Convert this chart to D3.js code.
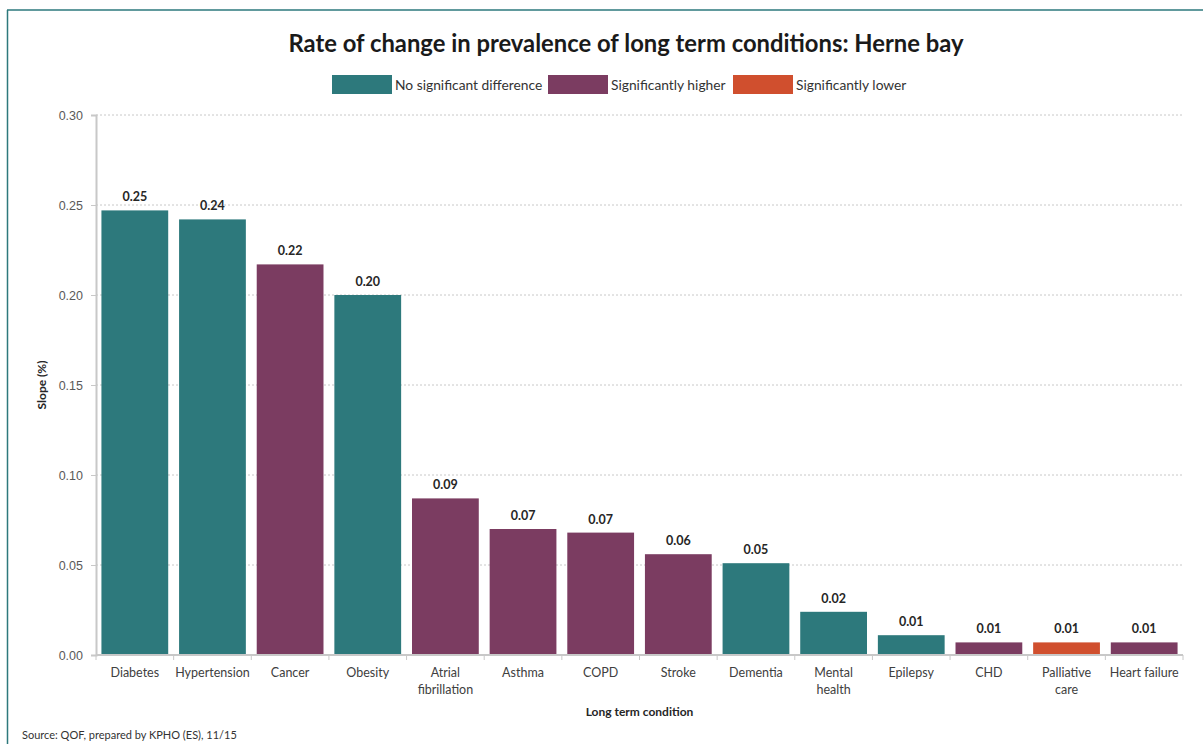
<!DOCTYPE html>
<html>
<head>
<meta charset="utf-8">
<script src="https://cdn.jsdelivr.net/npm/d3@7"></script>
<style>
  body { margin: 0; background: #fff; }
  svg { display: block; font-family: Lato, "Open Sans", sans-serif; }
</style>
</head>
<body>
<svg id="chart" width="1203" height="744"></svg>
<script>
// data
const conditions = ["Diabetes", "Hypertension", "Cancer", "Obesity", "Atrial fibrillation", "Asthma",
  "COPD", "Stroke", "Dementia", "Mental health", "Epilepsy", "CHD", "Palliative care", "Heart failure"];
const slopes = [0.247, 0.242, 0.217, 0.200, 0.087, 0.070, 0.068, 0.056, 0.051, 0.024, 0.011, 0.007, 0.007, 0.007];
const labels = ["0.25", "0.24", "0.22", "0.20", "0.09", "0.07", "0.07", "0.06", "0.05", "0.02", "0.01", "0.01", "0.01", "0.01"];
const groups = ["nsd", "nsd", "high", "nsd", "high", "high", "high", "high", "nsd", "nsd", "nsd", "high", "low", "high"];
const yTicks = [0, 0.05, 0.10, 0.15, 0.20, 0.25, 0.30];
const legendKeys = ["nsd", "high", "low"];
const legendNames = ["No significant difference", "Significantly higher", "Significantly lower"];

const colors = { nsd: "#2d797c", high: "#7b3c61", low: "#d04f2e" };

const svg = d3.select("#chart");
const W = 1203, H = 744;
const m = { left: 96, right: 1183, top: 115, bottom: 655 };

// outer frame
svg.append("line").attr("x1", 7).attr("x2", W).attr("y1", 10).attr("y2", 10)
  .attr("stroke", "#2d797c").attr("stroke-width", 1.5);
svg.append("line").attr("x1", 7.5).attr("x2", 7.5).attr("y1", 10).attr("y2", H)
  .attr("stroke", "#2d797c").attr("stroke-width", 1.5);

const x = d3.scaleBand().domain(conditions).range([m.left, m.right]).paddingInner(0.14).paddingOuter(0.07);
const y = d3.scaleLinear().domain([0, 0.30]).range([m.bottom, m.top]);

// gridlines
svg.append("g").selectAll("line").data(yTicks.filter(d => d > 0)).join("line")
  .attr("x1", m.left).attr("x2", m.right)
  .attr("y1", d => y(d)).attr("y2", d => y(d))
  .attr("stroke", "#c8c8c8").attr("stroke-dasharray", "2,2");

// y axis
const yAxis = svg.append("g").attr("transform", `translate(${m.left},0)`)
  .call(d3.axisLeft(y).tickValues(yTicks).tickFormat(d3.format(".2f")).tickSize(5).tickPadding(8));
yAxis.select(".domain").attr("stroke", "#c8c8c8").attr("stroke-width", 2);
yAxis.selectAll(".tick line").attr("stroke", "#c8c8c8");
yAxis.selectAll("text").attr("fill", "#595959").attr("font-size", 12.5);

// bars
svg.append("g").selectAll("rect").data(conditions).join("rect")
  .attr("x", d => x(d)).attr("width", x.bandwidth())
  .attr("y", (d, i) => y(slopes[i])).attr("height", (d, i) => y(0) - y(slopes[i]))
  .attr("fill", (d, i) => colors[groups[i]]);

// value labels
svg.append("g").selectAll("text").data(conditions).join("text")
  .attr("x", d => x(d) + x.bandwidth() / 2)
  .attr("y", (d, i) => y(slopes[i]) - 9)
  .attr("text-anchor", "middle").attr("font-size", 12.5).attr("font-weight", "bold")
  .attr("fill", "#262626")
  .text((d, i) => labels[i]);

// x axis
const boundaries = d3.range(conditions.length + 1).map(i => m.left + i * (m.right - m.left) / conditions.length);
svg.append("line").attr("x1", m.left).attr("x2", m.right).attr("y1", m.bottom).attr("y2", m.bottom)
  .attr("stroke", "#c8c8c8").attr("stroke-width", 2);
svg.append("g").selectAll("line").data(boundaries).join("line")
  .attr("x1", d => d).attr("x2", d => d).attr("y1", m.bottom).attr("y2", m.bottom + 5)
  .attr("stroke", "#c8c8c8");

// category labels (wrap long ones)
const wrapAt = { "Atrial fibrillation": ["Atrial", "fibrillation"], "Mental health": ["Mental", "health"], "Palliative care": ["Palliative", "care"] };
const catText = svg.append("g").selectAll("text").data(conditions).join("text")
  .attr("x", d => x(d) + x.bandwidth() / 2).attr("y", 677)
  .attr("text-anchor", "middle").attr("font-size", 12.5).attr("fill", "#404040");
catText.each(function (d) {
  const lines = wrapAt[d] || [d];
  d3.select(this).selectAll("tspan").data(lines).join("tspan")
    .attr("x", x(d) + x.bandwidth() / 2).attr("dy", (l, i) => i ? 17 : 0).text(l => l);
});

// axis titles
svg.append("text").attr("x", (m.left + m.right) / 2).attr("y", 716)
  .attr("text-anchor", "middle").attr("font-size", 12).attr("font-weight", "bold").attr("fill", "#262626")
  .text("Long term condition");
svg.append("text").attr("transform", `translate(46,${(m.top + m.bottom) / 2}) rotate(-90)`)
  .attr("text-anchor", "middle").attr("font-size", 12).attr("font-weight", "bold").attr("fill", "#262626")
  .text("Slope (%)");

// title
svg.append("text").attr("x", 626).attr("y", 52)
  .attr("text-anchor", "middle").attr("font-size", 23.8).attr("font-weight", "bold").attr("fill", "#1a1a1a")
  .text("Rate of change in prevalence of long term conditions: Herne bay");

// legend
const legX = [332, 548, 733];
const leg = svg.append("g").selectAll("g").data(legendKeys).join("g")
  .attr("transform", (d, i) => `translate(${legX[i]},75)`);
leg.append("rect").attr("width", 60).attr("height", 19).attr("fill", d => colors[d]);
leg.append("text").attr("x", 63).attr("y", 15).attr("font-size", 13.8).attr("fill", "#333")
  .text((d, i) => legendNames[i]);

// source
svg.append("text").attr("x", 22).attr("y", 739).attr("font-size", 11).attr("fill", "#333")
  .text("Source: QOF, prepared by KPHO (ES), 11/15");
</script>
</body>
</html>
